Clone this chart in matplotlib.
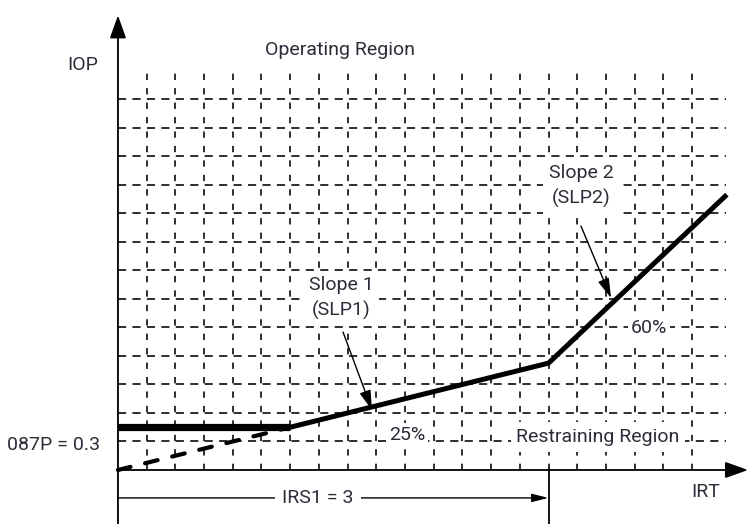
import matplotlib.pyplot as plt
import numpy as np

plt.rcParams['font.family'] = ['Roboto', 'DejaVu Sans']

# chart values (amps, per unit)
grid_step = 0.2
grid_x = np.arange(1, 21) * grid_step      # 20 vertical grid lines
grid_y = np.arange(1, 14) * grid_step      # 13 horizontal grid lines
pickup = 0.3        # 087P
irs1 = 3.0          # IRS1
slp1 = 25           # %
slp2 = 60           # %
# characteristic as drawn
char_x = [0.0, 1.2, 3.0, 4.23]
char_y = [0.3, 0.3, 0.75, 1.92]
ext_x = [0.0, 1.2]
ext_y = [0.0, 0.3]

txt_col = '#2c2c38'

fig = plt.figure(figsize=(7.48, 5.24), dpi=100)
ax = fig.add_axes([0, 0, 1, 1])
ax.set_xlim(-0.822, 4.390)
ax.set_ylim(-0.379, 3.298)
ax.axis('off')

# dashed grid
ax.vlines(grid_x, 0, 2.79, colors='#1e1e1e', lw=1.3, linestyles=(0, (3.5, 4.5)))
ax.hlines(grid_y, 0, 4.24, colors='#1e1e1e', lw=1.3, linestyles=(0, (4.5, 3.5)))

# axes with arrows
ax.annotate('', xy=(0, 3.19), xytext=(0, -0.379),
            arrowprops=dict(arrowstyle='-|>,head_length=1.4,head_width=0.5',
                            color='black', lw=1.3, shrinkA=0, shrinkB=0))
ax.annotate('', xy=(4.39, 0), xytext=(0, 0),
            arrowprops=dict(arrowstyle='-|>,head_length=1.4,head_width=0.5',
                            color='black', lw=1.3, shrinkA=0, shrinkB=0))

# IRS1 marker
ax.plot([irs1, irs1], [0, -0.379], color='black', lw=1.3)
ax.annotate('', xy=(irs1, -0.196), xytext=(0, -0.196),
            arrowprops=dict(arrowstyle='-|>,head_length=1.0,head_width=0.25',
                            color='black', lw=1.0, shrinkA=0, shrinkB=0))

# characteristic
ax.plot(ext_x, ext_y, color='black', lw=3, linestyle=(0, (3.1, 3.6)),
        dash_capstyle='round', zorder=4)
ax.plot(char_x[:2], char_y[:2], color='black', lw=5.2, solid_capstyle='butt', zorder=5)
ax.plot(char_x[1:], char_y[1:], color='black', lw=3.6, solid_joinstyle='miter', zorder=5)

box = dict(facecolor='white', edgecolor='none', pad=2)
fs = 14
ax.text(-0.244, 2.842, 'IOP', ha='center', va='center', fontsize=fs, color=txt_col)
ax.text(1.547, 2.947, 'Operating Region', ha='center', va='center', fontsize=fs,
        color=txt_col, bbox=box)
ax.text(-0.125, 0.175, '087P = %.1f' % pickup, ha='right', va='center', fontsize=fs,
        color=txt_col)
ax.text(1.394, -0.196, 'IRS1 = %d' % irs1, ha='center', va='center', fontsize=fs,
        color=txt_col, bbox=dict(facecolor='white', edgecolor='none', pad=5), zorder=6)
ax.text(4.098, -0.154, 'IRT', ha='center', va='center', fontsize=fs, color=txt_col)
ax.text(3.345, 0.232, 'Restraining Region', ha='center', va='center', fontsize=fs,
        color=txt_col, bbox=dict(facecolor='white', edgecolor='none', pad=4), zorder=3)
ax.text(2.014, 0.246, '%d%%' % slp1, ha='center', va='center', fontsize=fs,
        color=txt_col, bbox=box, zorder=3)
ax.text(3.70, 0.996, '%d%%' % slp2, ha='center', va='center', fontsize=fs,
        color=txt_col, bbox=box, zorder=3)
ax.text(1.554, 1.207, 'Slope 1\n(SLP1)', ha='center', va='center', fontsize=fs,
        color=txt_col, linespacing=1.45, bbox=dict(facecolor='white', edgecolor='none', pad=4),
        zorder=3)
ax.text(3.226, 1.993, 'Slope 2\n(SLP2)', ha='center', va='center', fontsize=fs,
        color=txt_col, linespacing=1.45, bbox=dict(facecolor='white', edgecolor='none', pad=4),
        zorder=3)

# slope pointers
ax.annotate('', xy=(1.770, 0.421), xytext=(1.568, 0.968),
            arrowprops=dict(arrowstyle='-|>,head_length=1.2,head_width=0.35',
                            color='black', lw=1.0, shrinkA=0, shrinkB=0), zorder=6)
ax.annotate('', xy=(3.436, 1.207), xytext=(3.226, 1.712),
            arrowprops=dict(arrowstyle='-|>,head_length=1.2,head_width=0.35',
                            color='black', lw=1.0, shrinkA=0, shrinkB=0), zorder=6)

fig.savefig('out.png', dpi=100)
